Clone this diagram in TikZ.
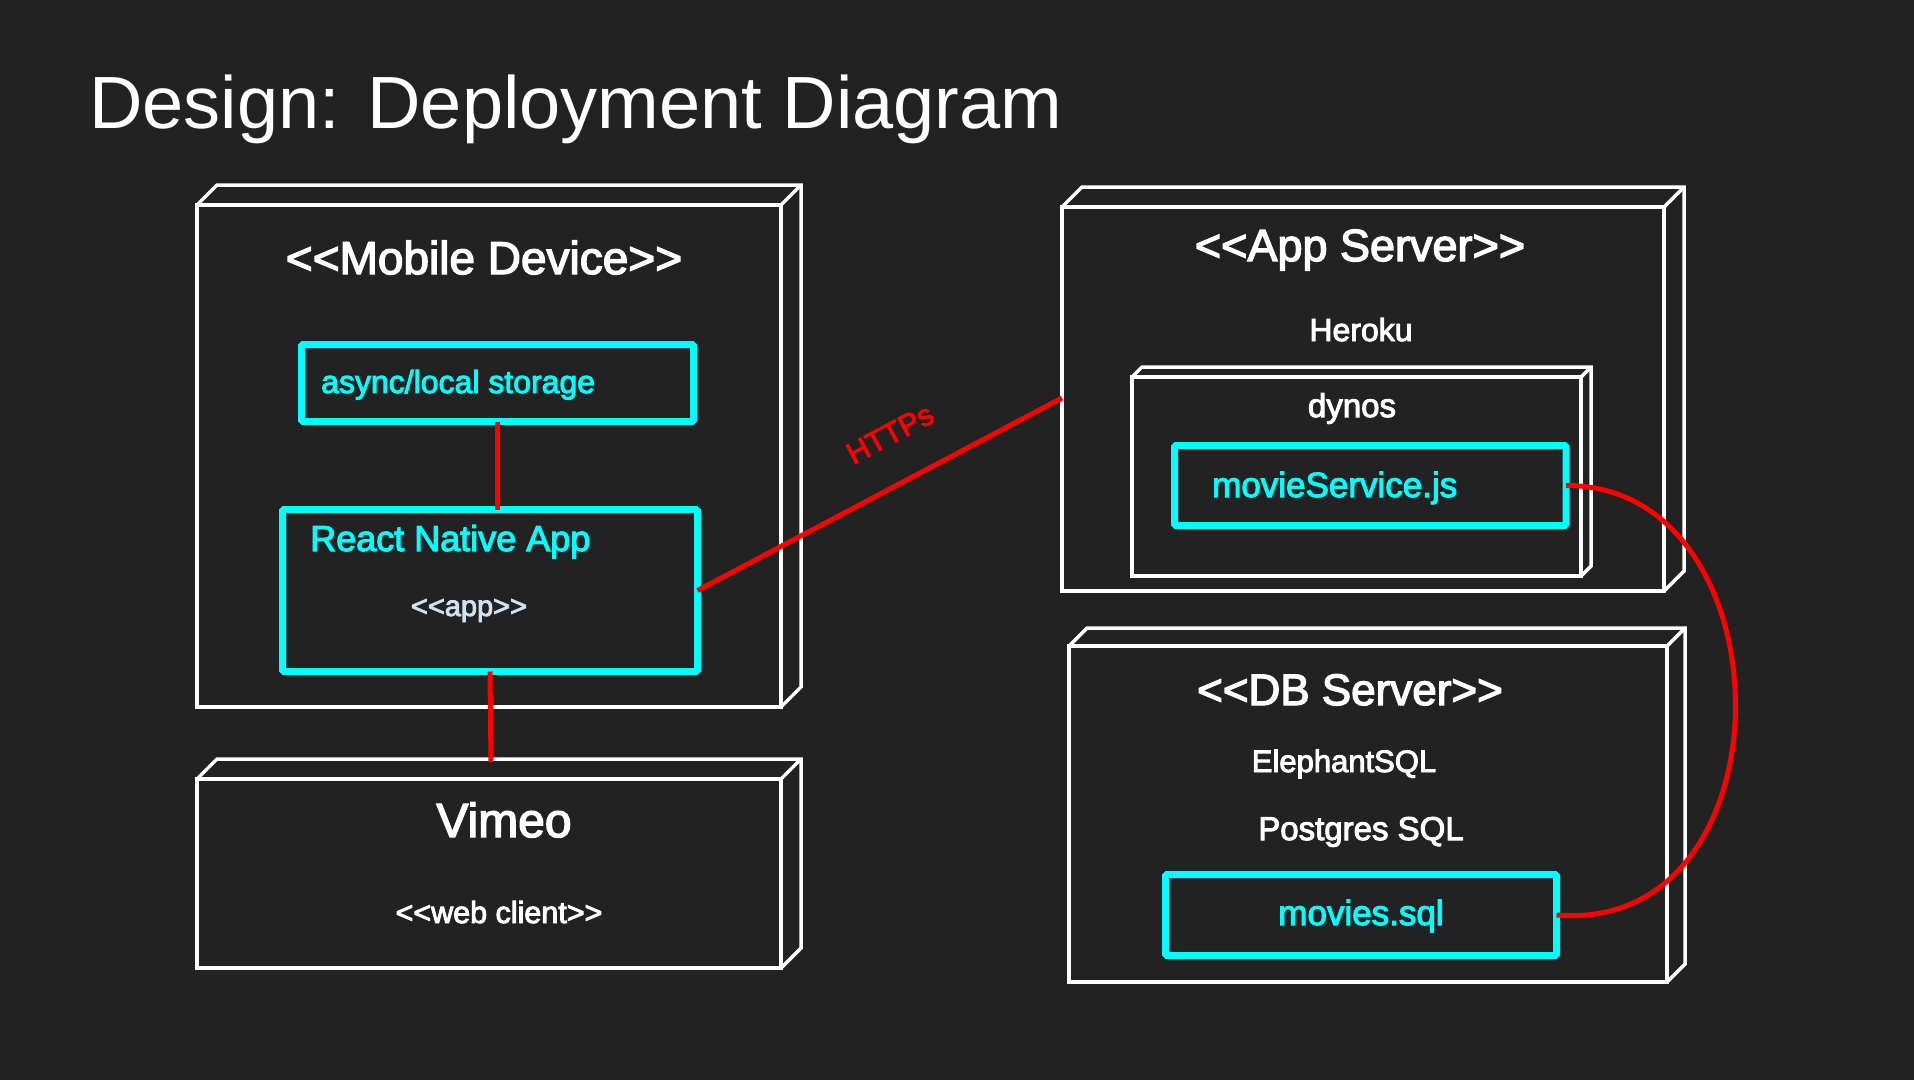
\documentclass[tikz,border=0pt]{standalone}
\usepackage{fontspec}
\setmainfont{Liberation Sans}
\newfontfamily\medfont[FakeBold=3]{Liberation Sans}
\usetikzlibrary{calc}
\definecolor{bg}{HTML}{222222}
\definecolor{cy}{HTML}{00FFFF}
\definecolor{appc}{HTML}{CFE2F3}
\definecolor{rd}{HTML}{FF0000}
\newcommand{\fsz}[1]{\fontsize{#1}{#1}\selectfont}
\newcommand{\threed}[2]{%
  \draw[edge3d] (#1.north west) -- ++(#2,-#2) -| ($(#1.south east)+(#2,-#2)$) -- (#1.south east);
  \draw[edge3d] (#1.north east) -- ++(#2,-#2);}
\begin{document}
\begin{tikzpicture}[x=1pt,y=-1pt,
  edge3d/.style={draw=white, line width=3.5pt, line join=miter},
  frontbox/.style={draw=white, line width=3.5pt, inner sep=0pt, outer sep=0pt, anchor=north west, fill=bg},
  cybox/.style={draw=cy, line width=7pt, rounded corners=1.5pt, inner sep=0pt, outer sep=0pt, anchor=north west},
  redline/.style={draw=rd, line width=5pt},
  wtext/.style={text=white, inner sep=0pt, anchor=base, font=\medfont},
  ctext/.style={text=cy, inner sep=0pt, anchor=base west, font=\medfont}]
\fill[bg] (0,0) rectangle (1914,1080);
\useasboundingbox (0,0) rectangle (1914,1080);

% title
\node[text=white, inner sep=0pt, anchor=base west, font=\fsz{74}] (title) at (89,128) {Design: Deployment Diagram};

% Mobile device
\node[frontbox, minimum width=584pt, minimum height=502pt] (mob) at (197,205) {};
\threed{mob}{20}
\node[wtext, font=\medfont\fsz{46}] (mobt) at (484,274) {<{}<Mobile Device>{}>};
\node[cybox, minimum width=392pt, minimum height=77pt] (stor) at (301.5,344.5) {};
\node[ctext, font=\medfont\fsz{32}] (stort) at (321,393) {async/local storage};
\node[cybox, minimum width=415pt, minimum height=162pt] (rn) at (282.5,509.5) {};
\node[ctext, font=\medfont\fsz{36}] (rnt) at (310,551) {React Native App};
\node[wtext, text=appc, font=\medfont\fsz{29}] (rna) at (469,616) {<{}<app>{}>};

% Vimeo
\node[frontbox, minimum width=584pt, minimum height=189pt] (vim) at (197,779) {};
\threed{vim}{20}
\node[wtext, font=\medfont\fsz{48}] (vimt) at (504,837) {Vimeo};
\node[wtext, font=\medfont\fsz{30.5}] (vimw) at (499,923) {<{}<web client>{}>};
\coordinate (vtop) at (491,762);

% App server
\node[frontbox, minimum width=602pt, minimum height=384pt] (app) at (1062,207) {};
\threed{app}{20}
\node[wtext, font=\medfont\fsz{45}] (appt) at (1360,261) {<{}<App Server>{}>};
\node[wtext, font=\medfont\fsz{32}] (her) at (1361,341) {Heroku};
\node[frontbox, minimum width=449pt, minimum height=199pt] (dyn) at (1132,377) {};
\threed{dyn}{10}
\node[wtext, font=\medfont\fsz{33}] (dynt) at (1352,417) {dynos};
\node[cybox, minimum width=391.5pt, minimum height=80pt] (ms) at (1174.5,445.5) {};
\node[ctext, font=\medfont\fsz{35}] (mst) at (1212,497) {movieService.js};
\coordinate (appin) at (1062,398);

% DB server
\node[frontbox, minimum width=598pt, minimum height=336pt] (db) at (1069,646) {};
\threed{db}{18}
\node[wtext, font=\medfont\fsz{44}] (dbt) at (1350,705) {<{}<DB Server>{}>};
\node[wtext, font=\medfont\fsz{31}] (ele) at (1344,772) {ElephantSQL};
\node[wtext, font=\medfont\fsz{33}] (pg) at (1361,840) {Postgres SQL};
\node[cybox, minimum width=391pt, minimum height=81pt] (sql) at (1165.5,874.5) {};
\node[wtext, text=cy, font=\medfont\fsz{35}] (sqlt) at (1361,925) {movies.sql};

% connectors
\draw[redline] (stor.south) -- (stor.south |- rn.north);
\draw[redline] (rn.south) -- (vtop);
\draw[redline] (rn.east) -- (appin);
\node[text=rd, inner sep=0pt, rotate=28, font=\medfont\fsz{30}] (https) at (890,434) {HTTPs};
\draw[redline] (ms.east) .. controls (1792,485) and (1795,935) .. (sql.east);
\end{tikzpicture}
\end{document}
